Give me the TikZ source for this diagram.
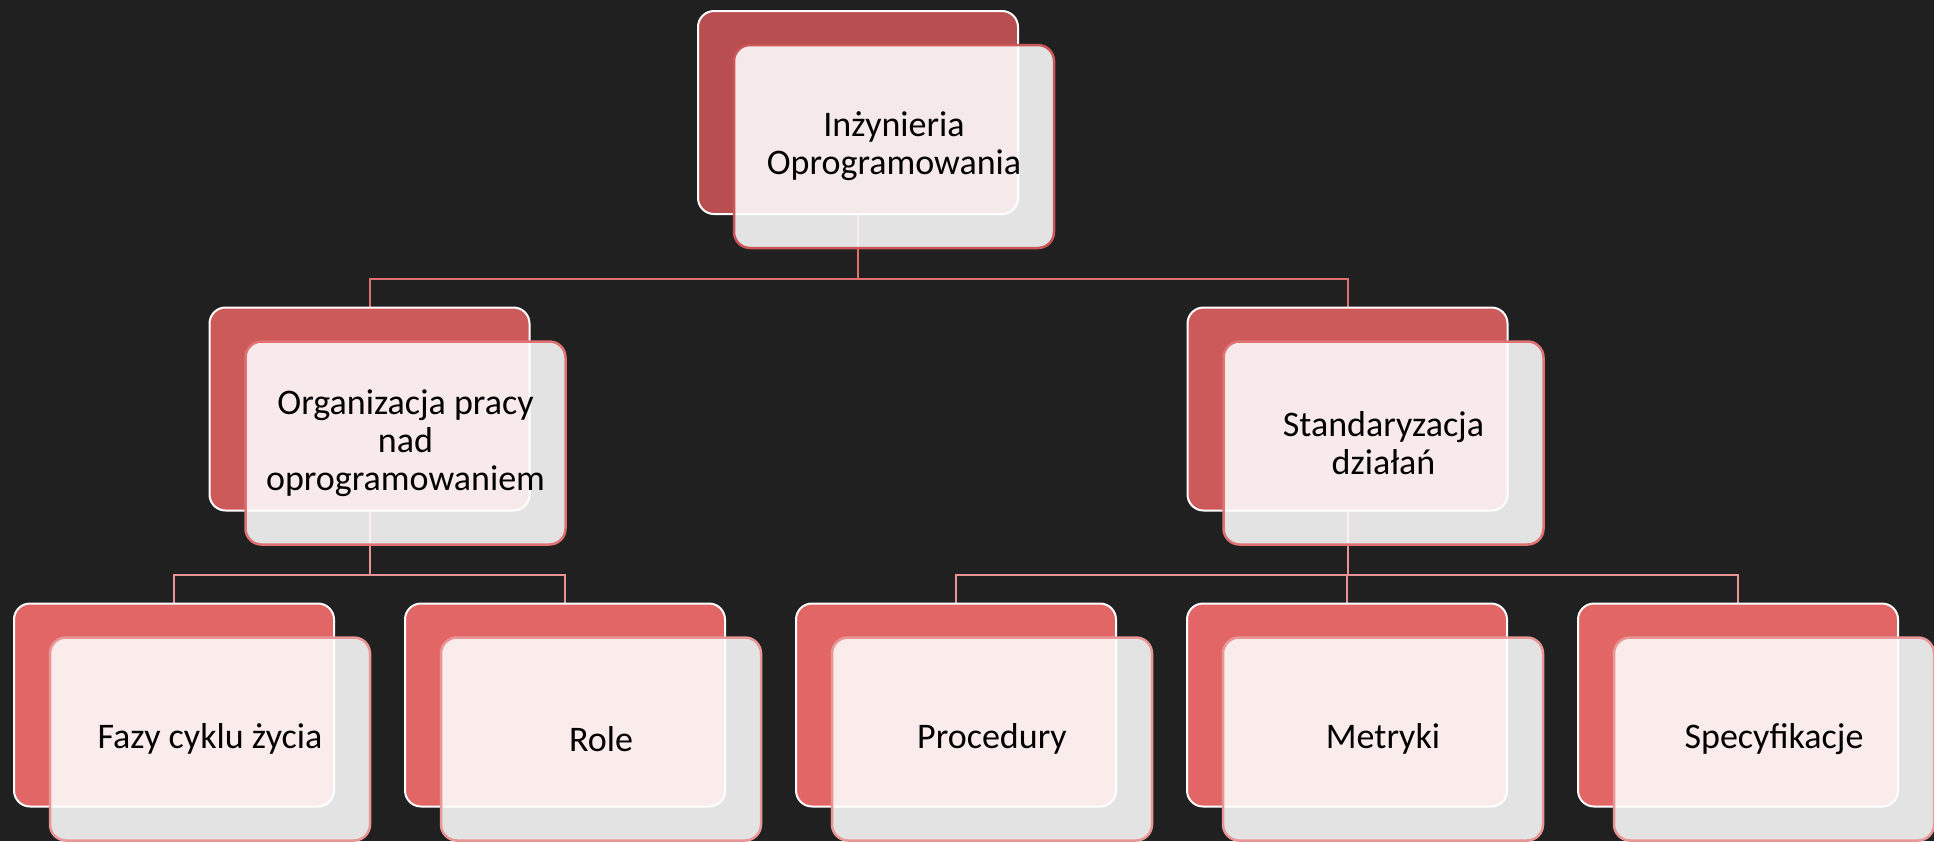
\documentclass[tikz,border=0pt]{standalone}
\usepackage{fontspec}
\setmainfont{Carlito}

\definecolor{pizarra}{HTML}{202020}
\definecolor{rojo1}{HTML}{B84E50}
\definecolor{rojo2}{HTML}{CD5A5A}
\definecolor{rojo3}{HTML}{E36666}
\definecolor{borde1}{HTML}{CC5558}
\definecolor{borde2}{HTML}{E07272}
\definecolor{borde3}{HTML}{E99696}
\definecolor{linea1}{HTML}{DE7070}
\definecolor{linea2}{HTML}{E89494}

\pgfdeclarelayer{fondo}
\pgfdeclarelayer{lineas}
\pgfsetlayers{fondo,lineas,main}

\begin{document}
\begin{tikzpicture}[x=1pt,y=-1pt,
  atras/.style={draw=white,line width=2pt,rounded corners=16pt,minimum width=320pt,minimum height=203pt,inner sep=0pt},
  frente/.style={rounded corners=16pt,line width=2.5pt,minimum width=320pt,minimum height=203pt,inner sep=0pt,
    fill=white,fill opacity=0.88,text opacity=1,align=center,font=\fontsize{36}{38}\selectfont},
  conector/.style={line width=2pt}]

%fondo de pizarra
\begin{pgfonlayer}{fondo}
\fill[pizarra] (0,0) rectangle (1934,841);
\end{pgfonlayer}
\useasboundingbox (0,0) rectangle (1934,841);

%nodo principal
\node[atras,fill=rojo1] (ing) at (858,112.5) {};
\node[frente,draw=borde1] (ingT) at ([shift={(36,34)}]ing.center) {Inżynieria\\Oprogramowania};

%segundo nivel
\node[atras,fill=rojo2] (org) at (369.5,409) {};
\node[frente,draw=borde2] (orgT) at ([shift={(36,34)}]org.center) {Organizacja pracy\\nad\\oprogramowaniem};
\node[atras,fill=rojo2] (std) at (1347.5,409) {};
\node[frente,draw=borde2] (stdT) at ([shift={(36,34)}]std.center) {Standaryzacja\\działań};

%tercer nivel
\foreach \nom/\x/\txt in {faz/174/Fazy cyklu życia, rol/565/Role, pro/956/Procedury, met/1347/Metryki, spe/1738/Specyfikacje}{
  \node[atras,fill=rojo3] (\nom) at (\x,705) {};
  \node[frente,draw=borde3] (t\nom) at ([shift={(36,34)}]\nom.center) {\txt};
}

%conectores por debajo de las cajas
\begin{pgfonlayer}{lineas}
\draw[conector,linea1] (ing.south) -- ++(0,64) -| (org.north);
\draw[conector,linea1] (ing.south) -- ++(0,64) -| (std.north);
\draw[conector,linea2] (org.south) -- ++(0,63) -| (faz.north);
\draw[conector,linea2] (org.south) -- ++(0,63) -| (rol.north);
\foreach \nom in {pro,met,spe}
  \draw[conector,linea2] (std.south) -- ++(0,63) -| (\nom.north);
\end{pgfonlayer}
\end{tikzpicture}
\end{document}
